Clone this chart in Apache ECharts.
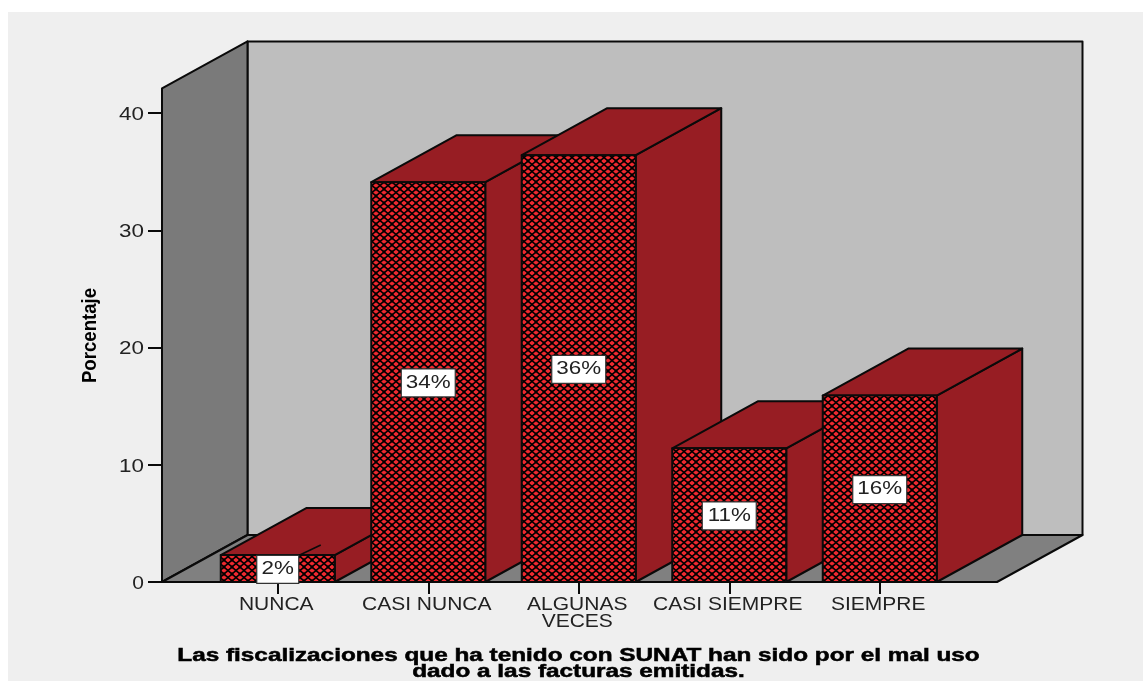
<!DOCTYPE html>
<html>
<head>
<meta charset="utf-8">
<script src="https://cdn.jsdelivr.net/npm/echarts@6/dist/echarts.min.js"></script>
<style>
html,body{margin:0;padding:0;background:#fff;}
#panel{position:absolute;left:8px;top:12px;right:0;bottom:0;background:#efefef;}
#chart{position:absolute;left:0;top:0;width:1143px;height:681px;}
</style>
</head>
<body>
<div id="panel"></div>
<div id="chart"></div>
<script>
var categories = ['NUNCA', 'CASI NUNCA', 'ALGUNAS\nVECES', 'CASI SIEMPRE', 'SIEMPRE'];
var values = [2.3, 34.1, 36.4, 11.4, 15.9];
var valueLabels = ['2%', '34%', '36%', '11%', '16%'];
var yTicks = [0, 10, 20, 30, 40];
var yTitle = 'Porcentaje';
var titleLines = ['Las fiscalizaciones que ha tenido con SUNAT han sido por el mal uso', 'dado a las facturas emitidas.'];
var wallTopValue = 42.1;

var DX = 85.5, DY = -47;
var FLOOR_LEFT = 162, FLOOR_RIGHT = 997;
var BAR_WIDTH = 114;
var INK = '#0a0a0a';
var TEXT = '#222';
var FONT = 'Liberation Sans, Arial, sans-serif';

function makeTile() {
  var c = document.createElement('canvas');
  c.width = 8; c.height = 7;
  var g = c.getContext('2d');
  g.fillStyle = '#7a0d11';
  g.fillRect(0, 0, 8, 7);
  g.fillStyle = '#ee2a30';
  [[4, 0.4], [4, 6.6], [0.4, 3.5], [7.6, 3.5]].forEach(function (p) {
    g.beginPath();
    g.ellipse(p[0], p[1], 2.3, 1.5, 0, 0, Math.PI * 2);
    g.fill();
  });
  g.strokeStyle = '#000';
  g.lineWidth = 1.4;
  g.beginPath();
  g.moveTo(0, 0); g.lineTo(8, 7);
  g.moveTo(8, 0); g.lineTo(0, 7);
  g.stroke();
  return c;
}
var tile = makeTile();

function poly(points, fill) {
  return { type: 'polygon', shape: { points: points }, style: { fill: fill, stroke: INK, lineWidth: 2, lineJoin: 'round' } };
}
function stretched(text, x, y, size, scaleX, opts) {
  opts = opts || {};
  return {
    type: 'text', x: x, y: y, scaleX: scaleX, rotation: opts.rotation || 0,
    style: {
      text: text, fill: opts.fill || TEXT,
      font: (opts.bold ? 'bold ' : '') + size + 'px ' + FONT,
      textAlign: opts.align || 'center', textVerticalAlign: 'middle',
      stroke: opts.heavy ? (opts.fill || TEXT) : undefined,
      lineWidth: opts.heavy || 0
    }
  };
}

function renderWalls(params, api) {
  var y0 = api.coord([0, 0])[1];
  var yT = api.coord([0, wallTopValue])[1];
  var L = FLOOR_LEFT, R = FLOOR_RIGHT;
  return {
    type: 'group',
    children: [
      poly([[L + DX, yT + DY], [R + DX, yT + DY], [R + DX, y0 + DY], [L + DX, y0 + DY]], '#bebebe'),
      poly([[L, yT], [L + DX, yT + DY], [L + DX, y0 + DY], [L, y0]], '#7a7a7a'),
      poly([[L, y0], [L + DX, y0 + DY], [R + DX, y0 + DY], [R, y0]], '#808080')
    ]
  };
}

function renderBar(params, api) {
  var idx = api.value(0), v = api.value(1);
  var base = api.coord([idx, 0]), top = api.coord([idx, v]);
  var x0 = base[0] - BAR_WIDTH / 2, x1 = base[0] + BAR_WIDTH / 2;
  var yb = base[1], yt = top[1];
  var kids = [
    poly([[x1, yb], [x1 + DX, yb + DY], [x1 + DX, yt + DY], [x1, yt]], '#971d23'),
    poly([[x0, yt], [x0 + DX, yt + DY], [x1 + DX, yt + DY], [x1, yt]], '#971d23'),
    poly([[x0, yb], [x0, yt], [x1, yt], [x1, yb]], { image: tile, repeat: 'repeat' })
  ];
  return { type: 'group', children: kids };
}

function renderValueLabel(params, api) {
  var idx = api.value(0), v = api.value(1);
  var base = api.coord([idx, 0]), top = api.coord([idx, v]);
  var cx = base[0], cy = (base[1] + top[1]) / 2 + 0.8;
  var text = valueLabels[idx];
  var w = text.length * 12 + 18, h = 28;
  var kids = [
    { type: 'rect', shape: { x: cx - w / 2, y: cy - h / 2, width: w, height: h },
      style: { fill: '#fff', stroke: '#333', lineWidth: 1.2 } },
    stretched(text, cx, cy, 17.5, 1.28)
  ];
  if (v < 5) {
    kids.unshift({ type: 'line', shape: { x1: cx + 22, y1: top[1], x2: cx + 43, y2: top[1] - 10 },
      style: { stroke: INK, lineWidth: 1.5 } });
  }
  return { type: 'group', children: kids };
}

function renderTexts(params, api) {
  var kids = [];
  yTicks.forEach(function (t) {
    var p = api.coord([0, t]);
    kids.push(stretched(String(t), 144, p[1] + 2, 17.5, t === 0 ? 1.2 : 1.28, { align: 'right' }));
  });
  categories.forEach(function (c, i) {
    var p = api.coord([i, 0]);
    c.split('\n').forEach(function (line, j) {
      kids.push(stretched(line, p[0] - 1.5, p[1] + 23 + j * 17, 17.5, 1.2));
    });
  });
  kids.push(stretched(yTitle, 90, 335.5, 20, 0.93, { bold: true, rotation: Math.PI / 2, fill: '#000' }));
  titleLines.forEach(function (line, j) {
    kids.push(stretched(line, 578.5, 656 + j * 16, 17.5, 1.39, { bold: true, fill: '#000', heavy: 0.5 }));
  });
  return { type: 'group', children: kids };
}

var chart = echarts.init(document.getElementById('chart'), null, { renderer: 'canvas' });
chart.setOption({
  animation: false,
  backgroundColor: 'transparent',
  grid: { left: 202.5, width: 752.5, top: 113, height: 469 },
  xAxis: {
    type: 'category', data: categories,
    axisLine: { show: false },
    axisTick: { show: true, alignWithLabel: true, length: 12, lineStyle: { color: INK, width: 2 } },
    axisLabel: { show: false }
  },
  yAxis: {
    type: 'value', min: 0, max: 40, interval: 10, offset: 40.5,
    axisLine: { show: false },
    axisTick: { show: true, length: 14, lineStyle: { color: INK, width: 2 } },
    axisLabel: { show: false },
    splitLine: { show: false }
  },
  series: [
    { type: 'custom', z: 1, data: [[0, 0]], renderItem: renderWalls, silent: true },
    { type: 'custom', z: 2, data: values.map(function (v, i) { return [i, v]; }), encode: { x: 0, y: 1 }, renderItem: renderBar, silent: true },
    { type: 'custom', z: 3, data: values.map(function (v, i) { return [i, v]; }), encode: { x: 0, y: 1 }, renderItem: renderValueLabel, silent: true },
    { type: 'custom', z: 4, data: [[0, 0]], renderItem: renderTexts, silent: true }
  ]
});
</script>
</body>
</html>
